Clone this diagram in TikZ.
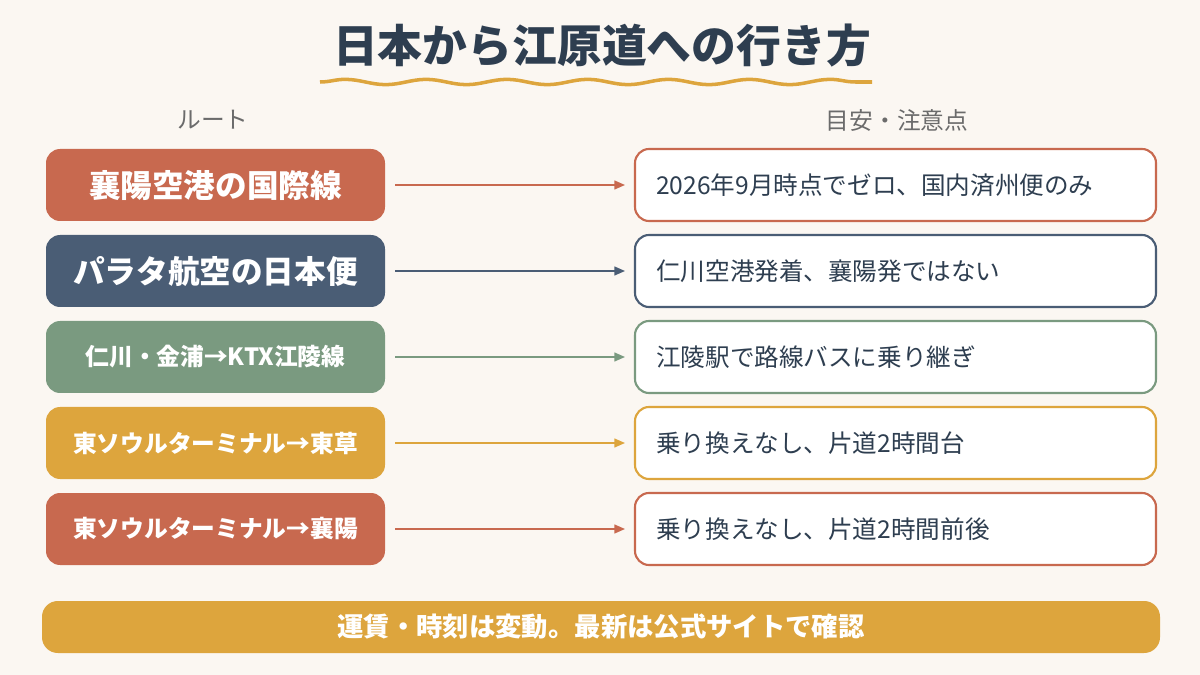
\documentclass[tikz,border=0pt]{standalone}
\usepackage{fontspec}
\setmainfont{Noto Sans CJK JP}
\usetikzlibrary{decorations.pathmorphing,arrows.meta}
\definecolor{bg}{HTML}{FBF7F2}
\definecolor{ttl}{HTML}{2E3E50}
\definecolor{cr}{HTML}{C8694F}
\definecolor{cn}{HTML}{4A5D75}
\definecolor{cg}{HTML}{7A9A80}
\definecolor{cy}{HTML}{DDA53D}
\definecolor{gr}{HTML}{6B6B6B}
\begin{document}
\begin{tikzpicture}[x=0.02cm,y=-0.02cm,
 lbox/.style={draw=none,rounded corners=8pt,minimum width=339*0.02cm,minimum height=72*0.02cm,text=white,anchor=center},
 rbox/.style={fill=white,line width=1.2pt,rounded corners=8pt,minimum width=521*0.02cm,minimum height=72*0.02cm,anchor=center},
 rtxt/.style={anchor=west,text=ttl,font=\fontsize{14}{16}\selectfont},
 arr/.style={-{Triangle[length=6pt,width=5pt]},line width=0.9pt}]
\fill[bg] (0,0) rectangle (1200,675);
\useasboundingbox (0,0) rectangle (1200,675);
\node[text=ttl,font=\bfseries\fontsize{25.5}{28}\selectfont] (title) at (602,46) {日本から江原道への行き方};
\draw[cy,line width=2pt,decorate,decoration={snake,amplitude=1.5pt,segment length=46pt}] (320,82) -- (872,82);
\node[text=gr,font=\fontsize{13.5}{16}\selectfont] (h1) at (213,120) {ルート};
\node[text=gr,font=\fontsize{13.5}{16}\selectfont] (h2) at (897,120) {目安・注意点};
\foreach \i/\y/\c/\l/\r/\fs in {1/185/cr/襄陽空港の国際線/2026年9月時点でゼロ、国内済州便のみ/18,
  2/271/cn/パラタ航空の日本便/仁川空港発着、襄陽発ではない/18,
  3/357/cg/仁川・金浦→KTX江陵線/江陵駅で路線バスに乗り継ぎ/13.5,
  4/443/cy/東ソウルターミナル→東草/乗り換えなし、片道2時間台/13.5,
  5/529/cr/東ソウルターミナル→襄陽/乗り換えなし、片道2時間前後/13.5}{
  \node[lbox,fill=\c,font=\bfseries\fontsize{\fs}{\fs}\selectfont] (L\i) at (215.5,\y) {\l};
  \node[rbox,draw=\c] (R\i) at (895.5,\y) {};
  \node[rtxt] (T\i) at (650,\y) {\r};
  \coordinate (a\i) at (395,\y);
  \coordinate (b\i) at (625,\y);
  \draw[arr,\c] (a\i) -- (b\i);
}
\node[fill=cy,rounded corners=9pt,minimum width=1118*0.02cm,minimum height=52*0.02cm,text=white,font=\bfseries\fontsize{15}{18}\selectfont] (bot) at (601,627) {運賃・時刻は変動。最新は公式サイトで確認};
\end{tikzpicture}
\end{document}
